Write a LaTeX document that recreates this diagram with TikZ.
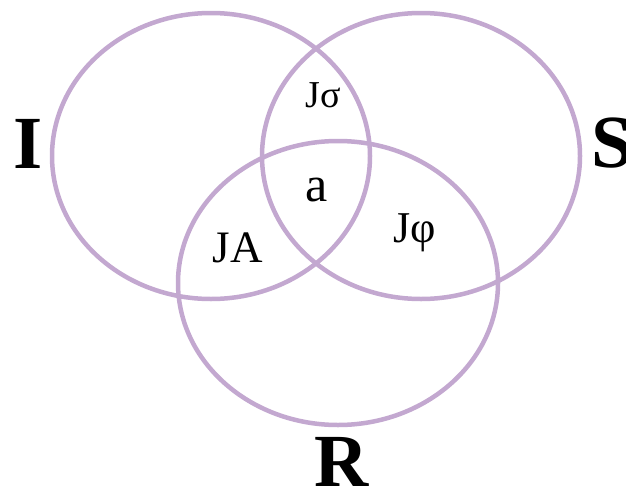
\documentclass[tikz,border=0pt]{standalone}
\usepackage{fontspec}
\setmainfont{Liberation Serif}
\definecolor{vennpurple}{RGB}{195,168,208}
\begin{document}
\begin{tikzpicture}[x=1pt,y=-1pt,
  setline/.style={draw=vennpurple,line width=4.5pt},
  biglabel/.style={inner sep=0pt,anchor=base,font=\fontsize{75}{75}\selectfont\bfseries},
  smalllabel/.style={inner sep=0pt,anchor=base}]
\useasboundingbox (0,0) rectangle (626,490);
\draw[setline] (211,156) ellipse [x radius=159pt, y radius=143pt];
\draw[setline] (421,156) ellipse [x radius=159pt, y radius=143pt];
\draw[setline] (338,283) ellipse [x radius=160pt, y radius=142pt];
\node[biglabel] (I) at (28,168) {I};
\node[biglabel,anchor=base west] (S) at (591,167) {S};
\node[biglabel] (R) at (342,486) {R};
\node[smalllabel,font=\fontsize{38}{38}\selectfont] (js) at (323,107) {Jσ};
\node[smalllabel,font=\fontsize{50}{50}\selectfont] (a) at (316.5,201) {a};
\node[smalllabel,font=\fontsize{45}{45}\selectfont] (ja) at (238,262) {JA};
\node[smalllabel,font=\fontsize{44}{44}\selectfont] (jp) at (415,242) {Jφ};
\end{tikzpicture}
\end{document}
